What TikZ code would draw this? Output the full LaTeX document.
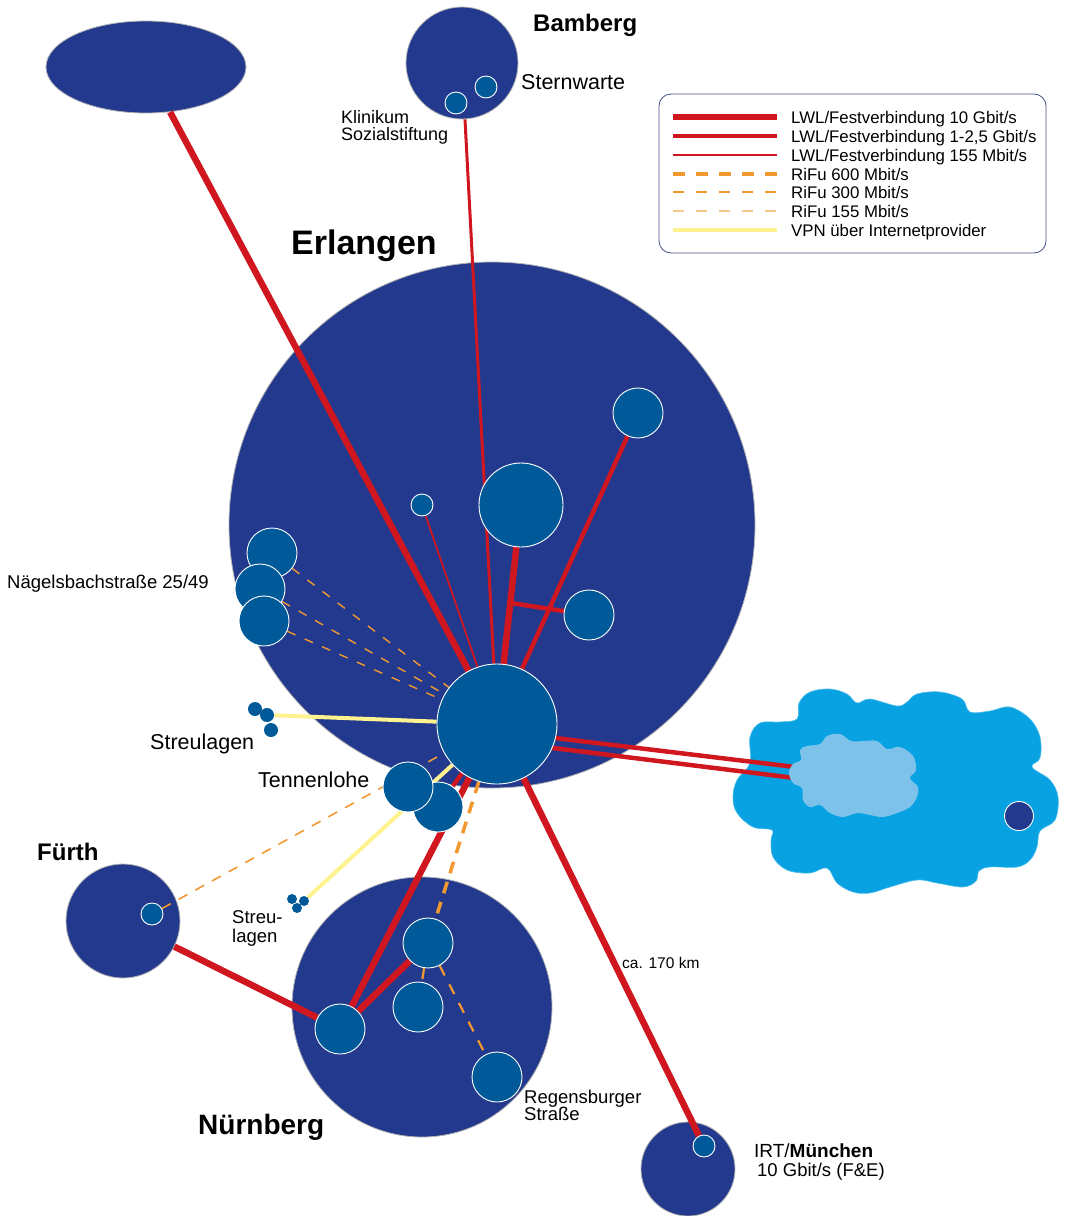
\documentclass[tikz,border=0pt]{standalone}
\usepackage{fontspec}
\setmainfont{Liberation Sans}
\usetikzlibrary{calc,shapes.geometric}
\pgfdeclarelayer{bg}
\pgfdeclarelayer{conn}
\pgfsetlayers{bg,conn,main}
\definecolor{dblue}{RGB}{35,57,142}
\definecolor{hblue}{RGB}{0,90,154}
\definecolor{lred}{RGB}{208,22,30}
\definecolor{rorange}{RGB}{242,152,48}
\definecolor{lorange}{RGB}{248,200,145}
\definecolor{vyellow}{RGB}{255,243,143}
\definecolor{cloudblue}{RGB}{8,162,226}
\definecolor{cloudlight}{RGB}{125,194,234}
\definecolor{frame}{RGB}{70,80,135}
\begin{document}
\begin{tikzpicture}[x=1pt,y=-1pt,
  site/.style={circle,fill=dblue,draw=gray!60,line width=0.8pt,inner sep=0pt,minimum size=#1},
  sub/.style={circle,fill=hblue,draw=white,line width=0.9pt,inner sep=0pt,minimum size=#1},
  dot/.style={circle,fill=hblue,inner sep=0pt,minimum size=#1},
  gten/.style={draw=lred,line width=6.5pt},
  gone/.style={draw=lred,line width=4.5pt},
  gmid/.style={draw=lred,line width=3pt},
  mlow/.style={draw=lred,line width=1.8pt},
  rfsix/.style={draw=rorange,line width=3.5pt,dash pattern=on 12pt off 9pt},
  rfthree/.style={draw=rorange,line width=2.2pt,dash pattern=on 11pt off 10pt},
  rfone/.style={draw=rorange,line width=1.4pt,dash pattern=on 9pt off 10pt},
  rfonelight/.style={draw=lorange,line width=1.4pt,dash pattern=on 11pt off 10pt},
  vpn/.style={draw=vyellow,line width=4pt},
  lbl/.style={inner sep=0pt,anchor=base west},
  cloudpart/.style={fill=cloudblue,draw=cloudblue!70!white,line width=0.6pt},
  cloudinner/.style={fill=cloudlight}]
\useasboundingbox (0,0) rectangle (1065,1216);

% ---------- big sites (background) ----------
\begin{pgfonlayer}{bg}
  \node[site=526pt] (erl) at (492,525) {};
  \node[site=112pt] (bam) at (462,63) {};
  \node[ellipse,fill=dblue,draw=gray!60,line width=0.8pt,minimum width=200pt,minimum height=92pt,inner sep=0pt] (ell) at (146,67) {};
  \node[site=114pt] (fue) at (123,921) {};
  \node[site=260pt] (nue) at (422,1007) {};
  \node[site=94pt] (muc) at (688,1169) {};
  % cloud
  \path[cloudpart] plot[smooth cycle,tension=0.6] coordinates {
    (750,737) (760,723) (780,722) (797,719) (799,703) (810,692) (830,689) (847,694) (857,703)
    (870,699) (897,706) (907,702) (917,694) (940,692) (962,699) (970,712)
    (990,711) (1010,707) (1030,719) (1040,737) (1040,758) (1032,767)
    (1050,780) (1058,797) (1055,820) (1040,831) (1037,847) (1030,860) (1017,867) (990,867) (979,871)
    (976,881) (963,887) (937,883) (917,880) (890,887) (870,893) (853,892) (837,883) (827,868)
    (810,873) (787,870) (773,857) (771,840) (772,830) (753,827) (737,813) (733,797) (737,780) (750,763)};
\end{pgfonlayer}

% ---------- small sites ----------
\node[sub=120pt] (hub) at (497,724) {};
\node[sub=50pt] (er1) at (638,413) {};
\node[sub=84pt] (er2) at (521,505) {};
\node[sub=22pt] (er3) at (422,505) {};
\node[sub=50pt] (er4) at (589,615) {};
\node[sub=50pt] (nb1) at (272,553) {};
\node[sub=50pt] (nb2) at (260,589) {};
\node[sub=50pt] (nb3) at (264,621) {};
\node[sub=50pt] (tl2) at (438,807) {};
\node[sub=50pt] (tl1) at (408,787) {};
\node[dot=14pt] (sla) at (255,709) {};
\node[dot=14pt] (slb) at (267,715) {};
\node[dot=14pt] (slc) at (271,730) {};
\node[dot=10pt] (sma) at (292,899) {};
\node[dot=10pt] (smb) at (304,901) {};
\node[dot=10pt] (smc) at (297,908) {};
\node[sub=22pt] (bb1) at (486,87) {};
\node[sub=22pt] (bb2) at (456,103) {};
\node[sub=22pt] (fu1) at (152,914) {};
\node[sub=50pt] (n1) at (340,1029) {};
\node[sub=50pt] (n2) at (428,943) {};
\node[sub=50pt] (n3) at (418,1007) {};
\node[sub=50pt] (n4) at (497,1077) {};
\node[sub=22pt] (mu1) at (704,1146) {};

% inner cloud (above connectors)
\path[cloudinner] plot[smooth cycle,tension=0.6] coordinates {
  (800,750) (807,746) (820,744) (827,736) (840,734) (851,741) (863,741) (877,741) (887,749)
  (900,747) (913,756) (916,770) (910,778) (918,787) (917,797) (910,807) (897,813) (883,817)
  (870,815) (857,813) (843,817) (830,813) (820,805) (810,807) (803,800) (802,788) (793,783)
  (789,773) (793,764) (801,760)};
\node[circle,fill=dblue,draw=white,line width=0.9pt,inner sep=0pt,minimum size=29pt] (cl1) at (1019,816) {};
\coordinate (cla) at (795,767);
\coordinate (clb) at (795,778);

% ---------- connectors ----------
\begin{pgfonlayer}{conn}
  \draw[gten] (ell) -- (hub);
  \draw[gmid] (bam) -- (hub);
  \draw[gten] (er2) -- (hub);
  \draw[gone] (er1) -- (hub);
  \coordinate (br) at ($(er2.center)!0.447!(hub.center)$);
  \draw[gone] (er4) -- (br);
  \draw[mlow] (er3) -- (hub);
  \draw[rfone] (nb1) -- (hub);
  \draw[rfone] (nb2) -- (hub);
  \draw[rfone] (nb3) -- (hub);
  \draw[vpn] (slb) -- (hub);
  \draw[vpn] (smb) -- (hub);
  \draw[rfone,line width=1.6pt,dash pattern=on 10pt off 9pt] (fu1) -- (hub);
  \draw[gten] (fue) -- (n1);
  \draw[gten] (hub) -- (n1);
  \draw[gone] (hub) -- (tl2);
  \draw[rfsix] (hub) -- (n2);
  \draw[gten] (n2) -- (n1);
  \draw[rfthree] (n2) -- (n3);
  \draw[rfthree] (n2) -- (n4);
  \draw[gten] (hub) -- (mu1);
  \draw[gone] ([yshift=-7pt]hub.center) -- (cla);
  \draw[gone] ([yshift=-17pt]hub.center) -- (clb);
\end{pgfonlayer}

% ---------- labels ----------
\node[lbl,font=\fontsize{24}{28}\selectfont\bfseries] (tbam) at (533,31) {Bamberg};
\node[lbl,font=\fontsize{21.5}{25}\selectfont] (tstern) at (521,89) {Sternwarte};
\node[lbl,font=\fontsize{18}{20}\selectfont] (tklin) at (341,123.5) {Klinikum};
\node[lbl,font=\fontsize{18}{20}\selectfont] (tsoz) at (341,140.5) {Sozialstiftung};
\node[lbl,font=\fontsize{34}{38}\selectfont\bfseries] (terl) at (291,254) {Erlangen};
\node[lbl,font=\fontsize{18.5}{22}\selectfont] (tnae) at (7,588) {Nägelsbachstraße 25/49};
\node[lbl,font=\fontsize{21.5}{25}\selectfont] (tstr) at (150,749) {Streulagen};
\node[lbl,font=\fontsize{21.5}{25}\selectfont] (tten) at (258,787) {Tennenlohe};
\node[lbl,font=\fontsize{24}{28}\selectfont\bfseries] (tfue) at (37,860) {Fürth};
\node[lbl,font=\fontsize{18.5}{20}\selectfont] (tstr2a) at (232,923) {Streu-};
\node[lbl,font=\fontsize{18.5}{20}\selectfont] (tstr2b) at (232,942) {lagen};
\node[lbl,font=\fontsize{28}{32}\selectfont\bfseries] (tnue) at (198,1134) {Nürnberg};
\node[lbl,font=\fontsize{18.5}{20}\selectfont] (treg1) at (524,1103) {Regensburger};
\node[lbl,font=\fontsize{18.5}{20}\selectfont] (treg2) at (524,1120) {Straße};
\node[lbl,font=\fontsize{15.5}{18}\selectfont] (tkm) at (622,968) {ca. 170 km};
\node[lbl,font=\fontsize{19}{22}\selectfont] (tirt) at (754,1157) {IRT/\textbf{München}};
\node[lbl,font=\fontsize{18.5}{22}\selectfont] (tgb) at (757,1176) {10 Gbit/s (F\&E)};

% ---------- legend ----------
\node[draw=frame,line width=0.8pt,rounded corners=12pt,minimum width=387pt,minimum height=159pt,inner sep=0pt,fill=white] (legend) at (852.5,173.5) {};
\draw[gten,line width=6pt] (673,117) -- (777,117);
\draw[gone,line width=3.8pt] (673,136) -- (777,136);
\draw[mlow,line width=1.4pt] (673,155) -- (777,155);
\draw[rfsix,line width=4pt,dash pattern=on 12pt off 11pt] (673,174) -- (777,174);
\draw[rfthree,line width=2.2pt,dash pattern=on 11pt off 12pt] (673,192) -- (777,192);
\draw[rfonelight,line width=1.5pt,dash pattern=on 11pt off 12pt] (673,211) -- (777,211);
\draw[vpn] (673,230) -- (777,230);
\foreach \yy/\tx/\nm in {117/{LWL/Festverbindung 10 Gbit/s}/la,136/{LWL/Festverbindung 1-2,5 Gbit/s}/lb,155/{LWL/Festverbindung 155 Mbit/s}/lc,174/{RiFu 600 Mbit/s}/ld,192/{RiFu 300 Mbit/s}/le,211/{RiFu 155 Mbit/s}/lf,230/{VPN über Internetprovider}/lg}
  \node[lbl,font=\fontsize{16.8}{19}\selectfont] (\nm) at (791,\yy+6) {\tx};
\end{tikzpicture}
\end{document}
